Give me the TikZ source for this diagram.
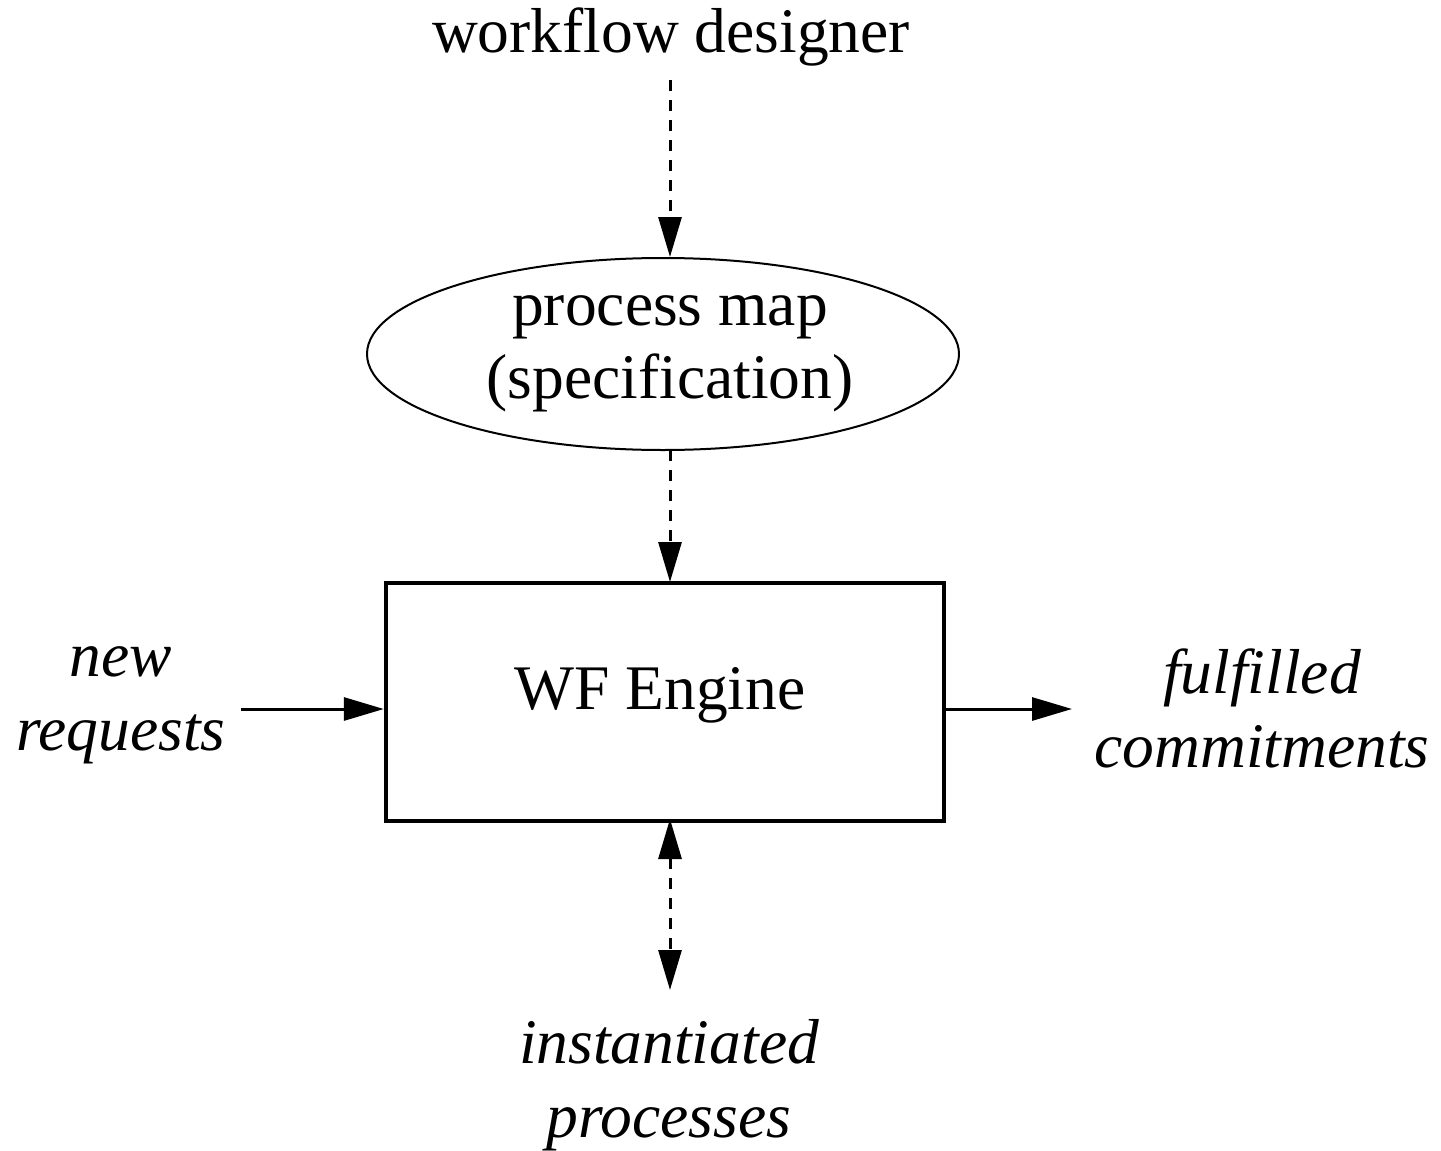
\documentclass[tikz,border=0pt]{standalone}
\usepackage{fontspec}
\setmainfont{Liberation Serif}
\usetikzlibrary{shapes.geometric,arrows.meta}
\tikzset{
  x=0.5pt, y=-0.5pt,
  lbl/.style={font=\fontsize{31.75}{37}\selectfont, inner sep=0pt, align=center},
  ilbl/.style={lbl, font=\fontsize{31.75}{37}\selectfont\itshape},
  tip/.style={-{Triangle[length=20pt,width=11.5pt]}},
  dtip/.style={{Triangle[length=20pt,width=11.5pt]}-{Triangle[length=20pt,width=11.5pt]}},
  flow/.style={line width=1.5pt},
  dflow/.style={line width=1.5pt, dash pattern=on 5.5pt off 4.5pt},
}
\begin{document}
\begin{tikzpicture}
\useasboundingbox (0,0) rectangle (1441,1151);

% labels and main shapes (multi-line labels are placed by their last baseline)
\node[lbl, anchor=base] (designer) at (671,52) {workflow designer};
\node[draw, ellipse, line width=1pt, minimum width=296pt, minimum height=96pt,
      inner sep=0pt, font=\fontsize{31.75}{36.5}\selectfont, align=center]
      (map) at (663,354) {\hspace*{7pt}process map\\\hspace*{7pt}(specification)};
\node[draw, rectangle, line width=2.2pt, minimum width=279pt, minimum height=119pt,
      inner sep=0pt, text height=22pt, text depth=15pt,
      font=\fontsize{31.75}{36.5}\selectfont] (engine) at (665,702) {WF Engine\hspace*{5pt}};
\node[ilbl, anchor=base] (req) at (121,750) {new\\requests};
\node[ilbl, anchor=base] (ful) at (1262,767) {fulfilled\\commitments};
\node[ilbl, anchor=base] (inst) at (669,1137) {instantiated\\processes};

% free ends of the connectors
\coordinate (dsgEnd) at (670,80);
\coordinate (mapTop) at (670,257);
\coordinate (mapBot) at (670,450);
\coordinate (engTop) at (670,582);
\coordinate (inL) at (241,709);
\coordinate (outR) at (1072,709);
\coordinate (engBot) at (670,819);
\coordinate (instTop) at (670,990);

% connectors
\draw[dflow, tip] (dsgEnd) -- (mapTop);
\draw[dflow, tip] (mapBot) -- (engTop);
\draw[flow, tip] (inL) -- (inL -| engine.west);
\draw[flow, tip] (outR -| engine.east) -- (outR);
\draw[dflow, dtip] (engBot) -- (instTop);
\end{tikzpicture}
\end{document}
